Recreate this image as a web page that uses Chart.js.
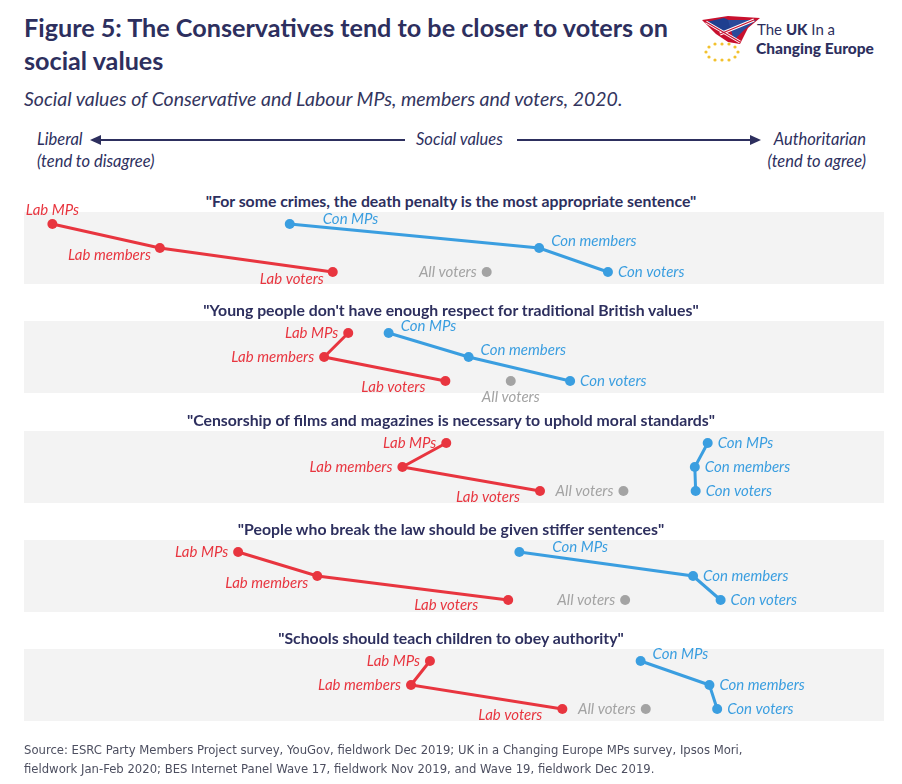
<!DOCTYPE html>
<html>
<head>
<meta charset="utf-8">
<script src="https://cdn.jsdelivr.net/npm/chart.js@4"></script>
<style>
  body { margin: 0; background: #fff; width: 902px; height: 784px; position: relative; overflow: hidden; font-family: Lato, sans-serif; }
  .abs { position: absolute; }
  #title { left: 24px; top: 11px; font-weight: bold; font-size: 25.2px; line-height: 33px; color: #2d2f5e; }
  #subtitle { left: 24px; top: 87px; font-style: italic; font-size: 19.5px; color: #33355e; }
  .axis { font-style: italic; font-size: 16.5px; color: #2d2f5e; }
  .qtitle { left: 0; width: 902px; text-align: center; font-weight: bold; font-size: 15.8px; color: #2d2f5e; }
  .panel { left: 0; width: 902px; height: 112px; }
  #source { left: 24px; top: 741px; font-family: "DejaVu Sans", sans-serif; font-size: 11.65px; line-height: 19px; color: #4d4f60; }
</style>
</head>
<body>
<div id="title" class="abs">Figure 5: The Conservatives tend to be closer to voters on<br>social values</div>
<div id="subtitle" class="abs">Social values of Conservative and Labour MPs, members and voters, 2020.</div>

<!-- logo -->
<svg class="abs" style="left:698px;top:14px" width="190" height="50">
  <polygon points="4,6 30,2 62,4 50,14 42,30 30,28 18,20" fill="#c8102e"/>
  <polygon points="8,8 26,4 40,10 30,18 20,16" fill="#1f3f8f"/>
  <polygon points="30,6 58,6 46,16 36,26" fill="#2a4a9a"/>
  <line x1="8" y1="8" x2="42" y2="28" stroke="#fff" stroke-width="3"/>
  <line x1="56" y1="6" x2="22" y2="20" stroke="#fff" stroke-width="3"/>
  <line x1="8" y1="8" x2="42" y2="28" stroke="#c8102e" stroke-width="1.2"/>
  <line x1="56" y1="6" x2="22" y2="20" stroke="#c8102e" stroke-width="1.2"/>
  <g fill="#f2c12e">
    <circle cx="24" cy="30" r="1.6"/><circle cx="31" cy="30" r="1.6"/><circle cx="37" cy="33" r="1.6"/>
    <circle cx="40" cy="38" r="1.6"/><circle cx="37" cy="43" r="1.6"/><circle cx="31" cy="46" r="1.6"/>
    <circle cx="24" cy="46" r="1.6"/><circle cx="17" cy="46" r="1.6"/><circle cx="11" cy="43" r="1.6"/>
    <circle cx="8" cy="38" r="1.6"/><circle cx="11" cy="33" r="1.6"/><circle cx="17" cy="30" r="1.6"/>
  </g>
  <text x="59" y="21" font-family="Lato" font-size="15" fill="#2d2f5e">The <tspan font-weight="900">UK</tspan> In a</text>
  <text x="58" y="40" font-family="Lato" font-weight="900" font-size="15.5" fill="#2d2f5e">Changing Europe</text>
</svg>

<!-- axis header -->
<div class="abs axis" style="left:37px;top:129px">Liberal</div>
<div class="abs axis" style="left:37px;top:151px">(tend to disagree)</div>
<div class="abs axis" style="left:416px;top:129px">Social values</div>
<div class="abs axis" style="right:36px;top:129px;text-align:right">Authoritarian</div>
<div class="abs axis" style="right:36px;top:151px;text-align:right">(tend to agree)</div>
<svg class="abs" style="left:0;top:130px" width="902" height="20">
  <line x1="98" y1="10" x2="405" y2="10" stroke="#2d2f5e" stroke-width="2"/>
  <polygon points="90,10 101,5 101,15" fill="#2d2f5e"/>
  <line x1="517" y1="10" x2="752" y2="10" stroke="#2d2f5e" stroke-width="2"/>
  <polygon points="761,10 750,5 750,15" fill="#2d2f5e"/>
</svg>

<div id="panels"></div>

<div id="source" class="abs">Source: ESRC Party Members Project survey, YouGov, fieldwork Dec 2019; UK in a Changing Europe MPs survey, Ipsos Mori,<br>fieldwork Jan-Feb 2020; BES Internet Panel Wave 17, fieldwork Nov 2019, and Wave 19, fieldwork Dec 2019.</div>

<script>
// Data: position on the liberal (0) -> authoritarian (100) scale
const questions = [
    '"For some crimes, the death penalty is the most appropriate sentence"',
    '"Young people don\'t have enough respect for traditional British values"',
    '"Censorship of films and magazines is necessary to uphold moral standards"',
    '"People who break the law should be given stiffer sentences"',
    '"Schools should teach children to obey authority"'
];
const groups = ['MPs', 'members', 'voters'];
const labValues = [
    [3.3, 15.8, 35.9],
    [37.7, 34.9, 49.0],
    [49.1, 44.0, 60.0],
    [24.9, 34.1, 56.3],
    [47.2, 45.0, 62.6]
];
const conValues = [
    [30.9, 59.9, 67.9],
    [42.4, 51.7, 63.5],
    [79.5, 78.0, 78.1],
    [57.6, 77.8, 81.0],
    [71.7, 79.7, 80.6]
];
const allVoterValues = [53.8, 56.6, 69.7, 69.9, 72.3];

// where each label sits relative to its dot (layout only)
const labLabelPos = [['t', 'lbs', 'lbs'], ['l', 'l', 'lb'], ['l', 'l', 'lb'], ['l', 'lbs', 'lb2'], ['l', 'l', 'lb']];
const conLabelPos = [['rt2', 'rt', 'r'], ['rt', 'rt', 'r'], ['r', 'r', 'r'], ['rt2', 'r', 'r'], ['rt', 'r', 'r']];
const allLabelPos = ['l', 'b', 'l', 'l', 'l'];

const RED = '#e8353f';
const BLUE = '#3a9ee0';
const GREY = '#a3a3a3';

const offsets = {
    l:   { dx: -10, dy: 0, align: 'right' },
    r:   { dx: 10, dy: 0, align: 'left' },
    rt:  { dx: 12, dy: -7, align: 'left' },
    rt2: { dx: 33, dy: -5, align: 'left' },
    lb:  { dx: -20, dy: 6, align: 'right' },
    lbs: { dx: -9, dy: 7, align: 'right' },
    lb2: { dx: -30, dy: 5, align: 'right' },
    t:   { dx: 0, dy: -14, align: 'center' },
    b:   { dx: 0, dy: 16, align: 'center' }
};

// grey band behind each panel
const bandPlugin = {
    id: 'band',
    beforeDraw(chart) {
        const a = chart.chartArea;
        const ctx = chart.ctx;
        ctx.save();
        ctx.fillStyle = '#f3f3f3';
        ctx.fillRect(a.left, a.top, a.right - a.left, a.bottom - a.top);
        ctx.restore();
    }
};

// italic labels next to the dots
const labelPlugin = {
    id: 'dotLabels',
    afterDatasetsDraw(chart) {
        const ctx = chart.ctx;
        ctx.save();
        ctx.font = 'italic 15px Lato';
        ctx.textBaseline = 'middle';
        chart.data.datasets.forEach((ds, i) => {
            const meta = chart.getDatasetMeta(i);
            meta.data.forEach((pt, j) => {
                const o = offsets[ds.labelPos[j]];
                ctx.fillStyle = ds.labelColor;
                ctx.textAlign = o.align;
                ctx.fillText(ds.labelText[j], pt.x + o.dx, pt.y + o.dy);
            });
        });
        ctx.restore();
    }
};

const panelsEl = document.getElementById('panels');

questions.forEach((q, p) => {
    const bandTop = 212 + p * 109.3;

    const t = document.createElement('div');
    t.className = 'abs qtitle';
    t.style.top = (bandTop - 21) + 'px';
    t.textContent = q;
    panelsEl.appendChild(t);

    const box = document.createElement('div');
    box.className = 'abs panel';
    box.style.top = (bandTop - 20) + 'px';
    const canvas = document.createElement('canvas');
    box.appendChild(canvas);
    panelsEl.appendChild(box);

    new Chart(canvas, {
        type: 'scatter',
        data: {
            datasets: [
                {
                    data: labValues[p].map((v, r) => ({ x: v, y: r })),
                    showLine: true,
                    borderColor: RED,
                    backgroundColor: RED,
                    borderWidth: 3,
                    pointRadius: 5,
                    pointBorderWidth: 0,
                    clip: false,
                    labelColor: RED,
                    labelText: groups.map(g => 'Lab ' + g),
                    labelPos: labLabelPos[p]
                },
                {
                    data: conValues[p].map((v, r) => ({ x: v, y: r })),
                    showLine: true,
                    borderColor: BLUE,
                    backgroundColor: BLUE,
                    borderWidth: 3,
                    pointRadius: 5,
                    pointBorderWidth: 0,
                    clip: false,
                    labelColor: BLUE,
                    labelText: groups.map(g => 'Con ' + g),
                    labelPos: conLabelPos[p]
                },
                {
                    data: [{ x: allVoterValues[p], y: 2 }],
                    backgroundColor: GREY,
                    borderColor: GREY,
                    pointRadius: 5,
                    pointBorderWidth: 0,
                    clip: false,
                    labelColor: GREY,
                    labelText: ['All voters'],
                    labelPos: [allLabelPos[p]]
                }
            ]
        },
        options: {
            responsive: true,
            maintainAspectRatio: false,
            animation: false,
            layout: { padding: { left: 24, right: 18, top: 20, bottom: 20 } },
            scales: {
                x: { type: 'linear', min: 0, max: 100, display: false },
                y: { type: 'linear', min: -0.5, max: 2.5, reverse: true, display: false }
            },
            plugins: {
                legend: { display: false },
                tooltip: { enabled: false }
            }
        },
        plugins: [bandPlugin, labelPlugin]
    });
});
</script>
</body>
</html>
